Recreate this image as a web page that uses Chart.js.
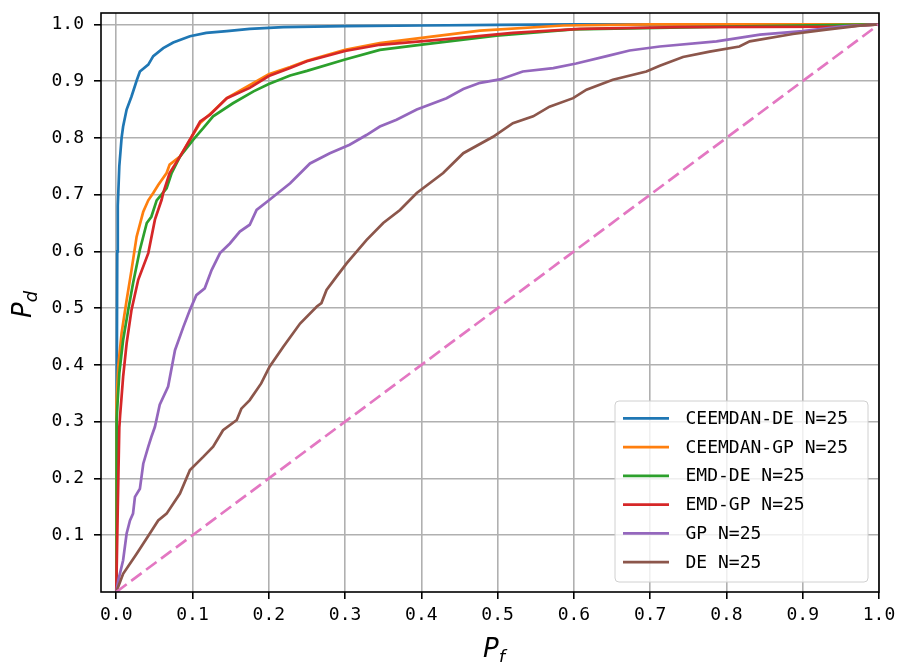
<!DOCTYPE html>
<html>
<head>
<meta charset="utf-8">
<style>
  html, body { margin: 0; padding: 0; background: #fff; }
</style>
<script src="https://cdn.jsdelivr.net/npm/chart.js@4.4.0/dist/chart.umd.min.js"></script>
</head>
<body>
<canvas id="roc" width="897" height="662"></canvas>
<script>
// tick labels
const xTicks = [0.0, 0.1, 0.2, 0.3, 0.4, 0.5, 0.6, 0.7, 0.8, 0.9, 1.0];
const yTicks = [0.1, 0.2, 0.3, 0.4, 0.5, 0.6, 0.7, 0.8, 0.9, 1.0];

// series names + colours (legend order)
const seriesNames = ["CEEMDAN-DE N=25", "CEEMDAN-GP N=25", "EMD-DE N=25", "EMD-GP N=25", "GP N=25", "DE N=25"];
const seriesColors = ["#1f77b4", "#ff7f0e", "#2ca02c", "#d62728", "#9467bd", "#8c564b"];

// CEEMDAN-DE
const ceemdanDeX = [0, 0.0005, 0.0013, 0.002, 0.004, 0.007, 0.009, 0.0136, 0.02, 0.027, 0.031, 0.042, 0.0485, 0.0616, 0.0747, 0.0966, 0.118, 0.145, 0.175, 0.219, 0.3, 0.4, 0.5, 0.6, 1.0];
const ceemdanDeY = [0, 0.3, 0.6, 0.68, 0.75, 0.80, 0.82, 0.85, 0.873, 0.902, 0.917, 0.929, 0.944, 0.958, 0.968, 0.979, 0.985, 0.988, 0.992, 0.995, 0.997, 0.998, 0.999, 1.0, 1.0];

// CEEMDAN-GP
const ceemdanGpX = [0, 0.0003, 0.0005, 0.0026, 0.007, 0.0136, 0.020, 0.0267, 0.0354, 0.042, 0.0485, 0.055, 0.066, 0.070, 0.0835, 0.0966, 0.110, 0.127, 0.145, 0.18, 0.2, 0.228, 0.25, 0.3, 0.3456, 0.411, 0.477, 0.586, 0.7, 1.0];
const ceemdanGpY = [0, 0.2, 0.338, 0.397, 0.456, 0.514, 0.567, 0.626, 0.67, 0.69, 0.703, 0.717, 0.738, 0.753, 0.767, 0.797, 0.826, 0.847, 0.870, 0.897, 0.912, 0.925, 0.936, 0.955, 0.967, 0.978, 0.989, 0.998, 1.0, 1.0];

// EMD-DE
const emdDeX = [0, 0.0005, 0.002, 0.004, 0.009, 0.0157, 0.022, 0.031, 0.040, 0.046, 0.053, 0.066, 0.0726, 0.0835, 0.101, 0.114, 0.127, 0.153, 0.18, 0.2, 0.228, 0.25, 0.3, 0.3456, 0.398, 0.4985, 0.599, 0.8, 1.0];
const emdDeY = [0, 0.303, 0.34, 0.385, 0.444, 0.497, 0.544, 0.603, 0.65, 0.661, 0.69, 0.711, 0.738, 0.767, 0.797, 0.817, 0.838, 0.861, 0.882, 0.895, 0.91, 0.918, 0.938, 0.955, 0.964, 0.98, 0.991, 0.996, 1.0];

// EMD-GP
const emdGpX = [0, 0.002, 0.004, 0.005, 0.007, 0.009, 0.0136, 0.020, 0.0288, 0.042, 0.0507, 0.0595, 0.0616, 0.070, 0.0835, 0.0988, 0.110, 0.123, 0.145, 0.175, 0.2, 0.228, 0.25, 0.3, 0.3456, 0.433, 0.52, 0.608, 0.739, 0.95, 1.0];
const emdGpY = [0, 0.15, 0.29, 0.31, 0.344, 0.379, 0.438, 0.497, 0.55, 0.597, 0.656, 0.691, 0.703, 0.738, 0.767, 0.802, 0.829, 0.841, 0.87, 0.888, 0.909, 0.923, 0.935, 0.953, 0.964, 0.974, 0.985, 0.992, 0.995, 0.996, 1.0];

// GP
const gpX = [0, 0.0026, 0.009, 0.0136, 0.018, 0.022, 0.0245, 0.031, 0.0354, 0.042, 0.046, 0.0507, 0.057, 0.068, 0.077, 0.088, 0.0966, 0.105, 0.116, 0.125, 0.136, 0.149, 0.162, 0.175, 0.184, 0.201, 0.228, 0.254, 0.28, 0.306, 0.328, 0.3456, 0.3675, 0.394, 0.433, 0.455, 0.477, 0.503, 0.533, 0.573, 0.603, 0.643, 0.673, 0.7126, 0.787, 0.844, 0.9, 0.953, 1.0];
const gpY = [0, 0.02, 0.056, 0.103, 0.126, 0.138, 0.1675, 0.182, 0.226, 0.256, 0.273, 0.291, 0.33, 0.362, 0.426, 0.467, 0.497, 0.523, 0.535, 0.567, 0.597, 0.614, 0.635, 0.647, 0.673, 0.691, 0.72, 0.755, 0.773, 0.788, 0.805, 0.82, 0.832, 0.85, 0.87, 0.886, 0.897, 0.903, 0.917, 0.923, 0.931, 0.944, 0.954, 0.961, 0.970, 0.982, 0.988, 0.9966, 1.0];

// DE
const deX = [0, 0.009, 0.027, 0.044, 0.055, 0.066, 0.0835, 0.0966, 0.114, 0.127, 0.140, 0.158, 0.164, 0.175, 0.19, 0.201, 0.219, 0.241, 0.263, 0.269, 0.2757, 0.289, 0.302, 0.328, 0.35, 0.372, 0.394, 0.4286, 0.455, 0.494, 0.52, 0.5466, 0.568, 0.599, 0.6165, 0.651, 0.695, 0.7126, 0.743, 0.778, 0.817, 0.8305, 0.887, 0.931, 0.975, 1.0];
const deY = [0, 0.032, 0.068, 0.103, 0.126, 0.138, 0.1735, 0.215, 0.238, 0.256, 0.285, 0.303, 0.323, 0.338, 0.3675, 0.397, 0.432, 0.473, 0.503, 0.509, 0.532, 0.556, 0.579, 0.62, 0.65, 0.673, 0.703, 0.738, 0.773, 0.802, 0.826, 0.838, 0.855, 0.87, 0.885, 0.9025, 0.917, 0.927, 0.9425, 0.952, 0.961, 0.970, 0.983, 0.9906, 0.9977, 1.0];

// chance line
const chanceX = [0, 1];
const chanceY = [0, 1];

const seriesX = [ceemdanDeX, ceemdanGpX, emdDeX, emdGpX, gpX, deX];
const seriesY = [ceemdanDeY, ceemdanGpY, emdDeY, emdGpY, gpY, deY];

const toPoints = (xs, ys) => xs.map((x, i) => ({ x: x, y: ys[i] }));

const monoFont = "'DejaVu Sans Mono', 'Liberation Mono', monospace";
const LINE_W = 2.7;

const datasets = seriesNames.map((name, i) => ({
  label: name,
  data: toPoints(seriesX[i], seriesY[i]),
  borderColor: seriesColors[i],
  borderWidth: LINE_W,
  pointRadius: 0,
  showLine: true,
  tension: 0,
  order: seriesNames.length - i, // later series drawn on top
}));
datasets.push({
  label: "chance",
  data: toPoints(chanceX, chanceY),
  borderColor: "#e377c2",
  borderWidth: LINE_W,
  borderDash: [13, 5.6],
  pointRadius: 0,
  showLine: true,
  order: 0,
});

// full black frame (all four spines)
const framePlugin = {
  id: "frame",
  afterDatasetsDraw(chart) {
    const { ctx, chartArea: a } = chart;
    ctx.save();
    ctx.strokeStyle = "#000";
    ctx.lineWidth = 1.6;
    ctx.strokeRect(a.left, a.top, a.right - a.left, a.bottom - a.top);
    ctx.restore();
  },
};

// axis titles P_d and P_f (italic with subscript)
const axisTitlePlugin = {
  id: "axisTitles",
  afterDraw(chart) {
    const { ctx, chartArea: a } = chart;
    const big = "italic 26px 'DejaVu Sans', sans-serif";
    const small = "italic 18px 'DejaVu Sans', sans-serif";
    const drawSub = (main, sub) => {
      ctx.font = big;
      const w1 = ctx.measureText(main).width;
      ctx.font = small;
      const w2 = ctx.measureText(sub).width;
      const x0 = -(w1 + w2) / 2;
      ctx.font = big;
      ctx.fillText(main, x0, 0);
      ctx.font = small;
      ctx.fillText(sub, x0 + w1, 6);
    };
    ctx.save();
    ctx.fillStyle = "#000";
    ctx.textBaseline = "alphabetic";
    ctx.textAlign = "left";
    // x title
    ctx.save();
    ctx.translate((a.left + a.right) / 2 + 4, 657);
    drawSub("P", "f");
    ctx.restore();
    // y title
    ctx.save();
    ctx.translate(31, (a.top + a.bottom) / 2 + 2);
    ctx.rotate(-Math.PI / 2);
    drawSub("P", "d");
    ctx.restore();
    ctx.restore();
  },
};

// matplotlib-like legend box in lower right
const legendPlugin = {
  id: "boxLegend",
  afterDraw(chart) {
    const { ctx } = chart;
    const left = 615, top = 401, right = 868, bottom = 582, r = 4;
    ctx.save();
    ctx.beginPath();
    ctx.moveTo(left + r, top);
    ctx.lineTo(right - r, top);
    ctx.quadraticCurveTo(right, top, right, top + r);
    ctx.lineTo(right, bottom - r);
    ctx.quadraticCurveTo(right, bottom, right - r, bottom);
    ctx.lineTo(left + r, bottom);
    ctx.quadraticCurveTo(left, bottom, left, bottom - r);
    ctx.lineTo(left, top + r);
    ctx.quadraticCurveTo(left, top, left + r, top);
    ctx.closePath();
    ctx.fillStyle = "rgba(255,255,255,0.8)";
    ctx.fill();
    ctx.strokeStyle = "#d0d0d0";
    ctx.lineWidth = 1;
    ctx.stroke();

    ctx.font = "18px " + monoFont;
    ctx.textBaseline = "middle";
    ctx.textAlign = "left";
    seriesNames.forEach((name, i) => {
      const y = 418.3 + i * 28.75;
      ctx.strokeStyle = seriesColors[i];
      ctx.lineWidth = LINE_W;
      ctx.beginPath();
      ctx.moveTo(623, y);
      ctx.lineTo(669, y);
      ctx.stroke();
      ctx.fillStyle = "#000";
      ctx.fillText(name, 685.5, y + 1);
    });
    ctx.restore();
  },
};

const tickFont = { family: monoFont, size: 18 };

// stop Chart.js from reserving extra room for edge labels
const noPad = scale => {
  scale.paddingTop = 0;
  scale.paddingBottom = 0;
  scale.paddingLeft = 0;
  scale.paddingRight = 0;
};

new Chart(document.getElementById("roc"), {
  type: "scatter",
  data: { datasets: datasets },
  options: {
    responsive: false,
    animation: false,
    layout: { padding: { left: 0, right: 18, top: 13, bottom: 0 } },
    plugins: {
      legend: { display: false },
      tooltip: { enabled: false },
    },
    scales: {
      x: {
        type: "linear",
        min: -0.02,
        max: 1.0,
        afterFit(scale) { scale.height = 70; noPad(scale); },
        afterBuildTicks(scale) { scale.ticks = xTicks.map(v => ({ value: v })); },
        border: { display: false },
        grid: { color: "#b0b0b0", lineWidth: 1.6, tickColor: "#000", tickLength: 7 },
        ticks: {
          color: "#000",
          font: tickFont,
          padding: 6,
          maxRotation: 0,
          autoSkip: false,
          callback: v => v.toFixed(1),
        },
      },
      y: {
        type: "linear",
        min: 0,
        max: 1.02,
        afterFit(scale) { scale.width = 101; noPad(scale); },
        afterBuildTicks(scale) { scale.ticks = yTicks.map(v => ({ value: v })); },
        border: { display: false },
        grid: { color: "#b0b0b0", lineWidth: 1.6, tickColor: "#000", tickLength: 7 },
        ticks: {
          color: "#000",
          font: tickFont,
          padding: 10,
          autoSkip: false,
          callback: v => v.toFixed(1),
        },
      },
    },
  },
  plugins: [framePlugin, axisTitlePlugin, legendPlugin],
});
</script>
</body>
</html>
